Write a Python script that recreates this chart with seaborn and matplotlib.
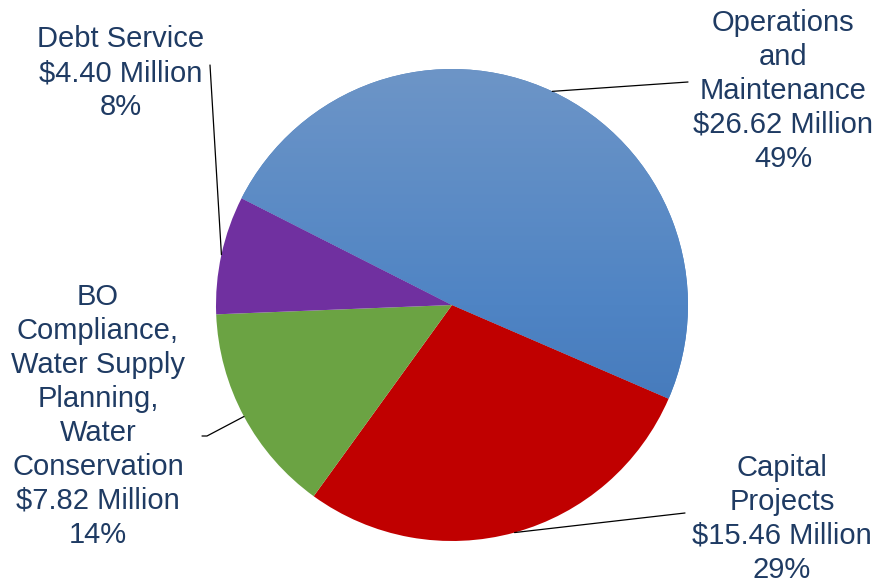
import numpy as np
import matplotlib
matplotlib.use("Agg")
import matplotlib.pyplot as plt
import seaborn as sns
from matplotlib.colors import LinearSegmentedColormap

# ---- data ----
categories = ["Operations\nand\nMaintenance", "Capital\nProjects",
              "BO\nCompliance,\nWater Supply\nPlanning,\nWater\nConservation",
              "Debt Service"]
values = [26.62, 15.46, 7.82, 4.40]          # $ Million
pct_labels = ["49%", "29%", "14%", "8%"]

colors = ["#4f81bd", "#c00000", "#6ba343", "#7030a0"]
text_color = "#1f3b63"

sns.set_theme(style="white")
plt.rcParams['font.family'] = ['Liberation Sans', 'DejaVu Sans']

W, H = 879, 584
fig = plt.figure(figsize=(W / 100, H / 100), dpi=100)
ax = fig.add_axes([0, 0, 1, 1])

cx, cy, R = 452, H - 305, 236
wedges, _ = ax.pie(values, colors=colors, startangle=153.1, counterclock=False,
                   center=(cx, cy), radius=R, frame=True,
                   wedgeprops=dict(linewidth=0))

# gradient on the blue slice (light at top, darker at bottom)
grad = np.linspace(0, 1, 256).reshape(-1, 1)
cmap = LinearSegmentedColormap.from_list("b", ["#6d95c7", "#4f84c4", "#3b6fb2"])
im = ax.imshow(grad, cmap=cmap, extent=(cx - R, cx + R, cy - R, cy + R),
               origin="upper", aspect="auto", zorder=wedges[0].get_zorder() + 0.1)
im.set_clip_path(wedges[0])

ax.set_xlim(0, W)
ax.set_ylim(0, H)
ax.set_aspect("equal")
ax.axis("off")

# labels: (text centre x, text centre y in px from top, line end point(s) in px)
layout = [
    (783, 91, [(688, 82)]),
    (782, 519, [(685, 513)]),
    (98, 416, [(207, 436), (202, 436)]),
    (121, 73, [(210, 65)]),
]

for w, cat, val, pct, (tx, ty, pts) in zip(wedges, categories, values, pct_labels, layout):
    mid = np.deg2rad((w.theta1 + w.theta2) / 2)
    ex, ey = cx + R * np.cos(mid), cy + R * np.sin(mid)
    xs = [ex] + [p[0] for p in pts]
    ys = [ey] + [H - p[1] for p in pts]
    ax.plot(xs, ys, color="black", lw=0.9, zorder=5)
    label = f"{cat}\n${val:.2f} Million\n{pct}"
    ax.text(tx, H - ty, label, ha="center", va="center", fontsize=21,
            color=text_color, linespacing=1.27, zorder=6)

fig.savefig("out.png", dpi=100)
